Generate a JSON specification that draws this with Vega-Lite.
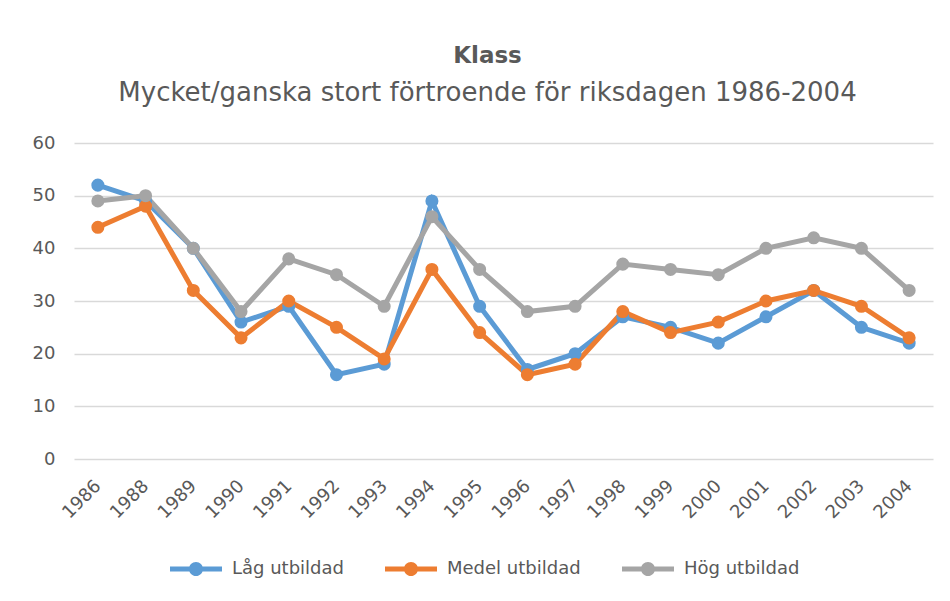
{
  "$schema": "https://vega.github.io/schema/vega-lite/v6.json",
  "autosize": "none",
  "width": 859,
  "height": 316,
  "padding": {"left": 74, "top": 143, "right": 17, "bottom": 142},
  "background": "white",
  "config": {"view": {"stroke": null}, "font": "DejaVu Sans"},
  "title": {
    "text": "Klass",
    "subtitle": "Mycket/ganska stort förtroende för riksdagen 1986-2004",
    "anchor": "middle",
    "dx": -16,
    "offset": 28,
    "font": "DejaVu Sans",
    "fontSize": 23,
    "fontWeight": "bold",
    "color": "#595959",
    "subtitleFont": "DejaVu Sans",
    "subtitleFontSize": 26,
    "subtitleColor": "#595959",
    "subtitlePadding": 12
  },
  "data": {
    "values": [
      {"year": "1986", "serie": "Låg utbildad", "value": 52},
      {"year": "1988", "serie": "Låg utbildad", "value": 49},
      {"year": "1989", "serie": "Låg utbildad", "value": 40},
      {"year": "1990", "serie": "Låg utbildad", "value": 26},
      {"year": "1991", "serie": "Låg utbildad", "value": 29},
      {"year": "1992", "serie": "Låg utbildad", "value": 16},
      {"year": "1993", "serie": "Låg utbildad", "value": 18},
      {"year": "1994", "serie": "Låg utbildad", "value": 49},
      {"year": "1995", "serie": "Låg utbildad", "value": 29},
      {"year": "1996", "serie": "Låg utbildad", "value": 17},
      {"year": "1997", "serie": "Låg utbildad", "value": 20},
      {"year": "1998", "serie": "Låg utbildad", "value": 27},
      {"year": "1999", "serie": "Låg utbildad", "value": 25},
      {"year": "2000", "serie": "Låg utbildad", "value": 22},
      {"year": "2001", "serie": "Låg utbildad", "value": 27},
      {"year": "2002", "serie": "Låg utbildad", "value": 32},
      {"year": "2003", "serie": "Låg utbildad", "value": 25},
      {"year": "2004", "serie": "Låg utbildad", "value": 22},
      {"year": "1986", "serie": "Medel utbildad", "value": 44},
      {"year": "1988", "serie": "Medel utbildad", "value": 48},
      {"year": "1989", "serie": "Medel utbildad", "value": 32},
      {"year": "1990", "serie": "Medel utbildad", "value": 23},
      {"year": "1991", "serie": "Medel utbildad", "value": 30},
      {"year": "1992", "serie": "Medel utbildad", "value": 25},
      {"year": "1993", "serie": "Medel utbildad", "value": 19},
      {"year": "1994", "serie": "Medel utbildad", "value": 36},
      {"year": "1995", "serie": "Medel utbildad", "value": 24},
      {"year": "1996", "serie": "Medel utbildad", "value": 16},
      {"year": "1997", "serie": "Medel utbildad", "value": 18},
      {"year": "1998", "serie": "Medel utbildad", "value": 28},
      {"year": "1999", "serie": "Medel utbildad", "value": 24},
      {"year": "2000", "serie": "Medel utbildad", "value": 26},
      {"year": "2001", "serie": "Medel utbildad", "value": 30},
      {"year": "2002", "serie": "Medel utbildad", "value": 32},
      {"year": "2003", "serie": "Medel utbildad", "value": 29},
      {"year": "2004", "serie": "Medel utbildad", "value": 23},
      {"year": "1986", "serie": "Hög utbildad", "value": 49},
      {"year": "1988", "serie": "Hög utbildad", "value": 50},
      {"year": "1989", "serie": "Hög utbildad", "value": 40},
      {"year": "1990", "serie": "Hög utbildad", "value": 28},
      {"year": "1991", "serie": "Hög utbildad", "value": 38},
      {"year": "1992", "serie": "Hög utbildad", "value": 35},
      {"year": "1993", "serie": "Hög utbildad", "value": 29},
      {"year": "1994", "serie": "Hög utbildad", "value": 46},
      {"year": "1995", "serie": "Hög utbildad", "value": 36},
      {"year": "1996", "serie": "Hög utbildad", "value": 28},
      {"year": "1997", "serie": "Hög utbildad", "value": 29},
      {"year": "1998", "serie": "Hög utbildad", "value": 37},
      {"year": "1999", "serie": "Hög utbildad", "value": 36},
      {"year": "2000", "serie": "Hög utbildad", "value": 35},
      {"year": "2001", "serie": "Hög utbildad", "value": 40},
      {"year": "2002", "serie": "Hög utbildad", "value": 42},
      {"year": "2003", "serie": "Hög utbildad", "value": 40},
      {"year": "2004", "serie": "Hög utbildad", "value": 32}
    ]
  },
  "encoding": {
    "x": {
      "field": "year",
      "type": "ordinal",
      "sort": null,
      "scale": {"type": "point", "padding": 0.5},
      "axis": {
        "title": null,
        "labelAngle": -45,
        "labelAlign": "right",
        "labelBaseline": "middle",
        "labelFontSize": 18,
        "labelColor": "#595959",
        "labelPadding": 24,
        "ticks": false,
        "domain": false,
        "grid": false
      }
    },
    "y": {
      "field": "value",
      "type": "quantitative",
      "scale": {"domain": [0, 60]},
      "axis": {
        "title": null,
        "values": [0, 10, 20, 30, 40, 50, 60],
        "labelFontSize": 18,
        "labelColor": "#595959",
        "labelPadding": 19,
        "ticks": false,
        "domain": false,
        "gridColor": "#D9D9D9",
        "gridWidth": 1.5
      }
    },
    "color": {
      "field": "serie",
      "type": "nominal",
      "scale": {
        "domain": ["Låg utbildad", "Medel utbildad", "Hög utbildad"],
        "range": ["#5B9BD5", "#ED7D31", "#A5A5A5"]
      },
      "legend": {
        "title": null,
        "orient": "none",
        "legendX": 96,
        "legendY": 400,
        "direction": "horizontal",
        "labelFontSize": 18,
        "labelColor": "#595959",
        "columnPadding": 41,
        "labelOffset": 10,
        "symbolType": "M-1,-0.1H1V0.1H-1Z M0.27,0A0.27,0.27,0,1,1,-0.27,0A0.27,0.27,0,1,1,0.27,0Z",
        "symbolSize": 2704,
        "symbolStrokeWidth": 0,
        "symbolOpacity": 1
      }
    }
  },
  "mark": {
    "type": "line",
    "strokeWidth": 5,
    "point": {"filled": true, "size": 170, "opacity": 1}
  }
}
